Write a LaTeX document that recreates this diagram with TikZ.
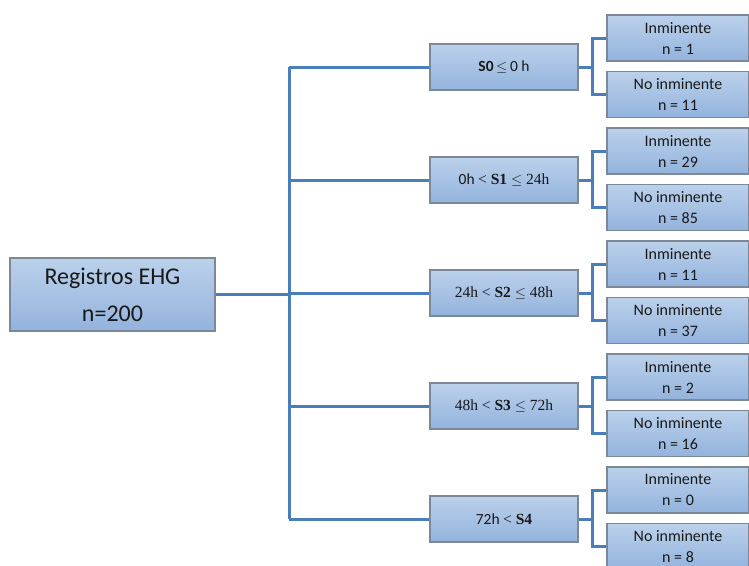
\documentclass[tikz,border=0pt]{standalone}
\usepackage{fontspec}
\setmainfont{Carlito}
\newfontfamily\tms{Liberation Serif}
\definecolor{lineblue}{HTML}{4A7EBB}
\definecolor{boxtop}{HTML}{BBD1EB}
\definecolor{boxbot}{HTML}{93B3DD}
\definecolor{boxedge}{HTML}{7D8896}
\begin{document}
\begin{tikzpicture}[x=1pt,y=-1pt,
  boxbase/.style={draw=boxedge,line width=1.3pt,top color=boxtop,bottom color=boxbot,inner sep=0pt,align=center,text=black!90},
  rootbox/.style={boxbase,minimum width=205pt,minimum height=73pt,font=\fontsize{24}{37}\selectfont},
  midbox/.style={boxbase,minimum width=148pt,minimum height=46pt,font=\fontsize{15.5}{18}\selectfont},
  leafbox/.style={boxbase,minimum width=142pt,minimum height=46pt,font=\fontsize{16}{21}\selectfont},
  conn/.style={draw=lineblue,line width=3pt}]
\useasboundingbox (0,0) rectangle (749,565);
\node[rootbox] (root) at (112.5,294.5) {Registros EHG\\n=200};
\coordinate (trunk) at (289,294.5);
\node[midbox] (s0) at (504,67) {\textbf{S0}\,{\tms$\leq$}\,0 h};
\node[midbox] (s1) at (504,180) {0h {\tms< \textbf{S1} $\leq$ 24h}};
\node[midbox] (s2) at (504,293) {{\tms 24h < \textbf{S2} $\leq$ 48h}};
\node[midbox] (s3) at (504,406) {{\tms 48h < \textbf{S3} $\leq$ 72h}};
\node[midbox] (s4) at (504,519) {72h {\tms< \textbf{S4}}};
\foreach \i/\c/\a/\b in {0/67/1/11,1/180/29/85,2/293/11/37,3/406/2/16,4/519/0/8}{
  \node[leafbox] (i\i) at (678,\c-29) {Inminente\\n = \a};
  \node[leafbox] (n\i) at (678,\c+27.5) {No inminente\\n = \b};
  \draw[conn] (s\i.east) -- ++(14,0) coordinate (k\i);
  \draw[conn] (i\i.west) -| (k\i) |- (n\i.west);
  \draw[conn] (trunk |- s\i.west) -- (s\i.west);
}
\draw[conn] (root.east) -- (trunk);
\draw[conn] (trunk |- s0.west) -- (trunk |- s4.west);
\end{tikzpicture}
\end{document}
